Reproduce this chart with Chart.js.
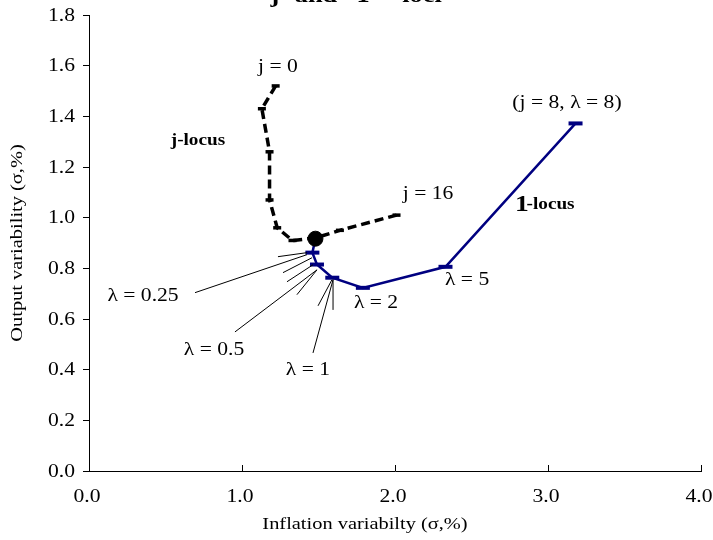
<!DOCTYPE html>
<html>
<head>
<meta charset="utf-8">
<script src="https://cdn.jsdelivr.net/npm/chart.js@4/dist/chart.umd.min.js"></script>
<style>
  html, body { margin: 0; padding: 0; background: #fff; }
  #wrap { width: 713px; height: 540px; }
</style>
</head>
<body>
<div id="wrap"><canvas id="c" width="713" height="540"></canvas></div>
<script>
// j-locus: inflation / output variability as j runs from 0 to 16
const jLocusX = [1.22, 1.13, 1.18, 1.18, 1.23, 1.33, 1.48, 1.64, 2.01];
const jLocusY = [1.52, 1.43, 1.26, 1.07, 0.96, 0.91, 0.92, 0.95, 1.01];

// lambda-locus: starts at the j = 8 optimum and runs up to lambda = 8
const lambdaX = [1.48, 1.46, 1.49, 1.59, 1.79, 2.33, 3.18];
const lambdaY = [0.917, 0.862, 0.815, 0.763, 0.723, 0.806, 1.372];

// highlighted optimum
const optimumX = [1.48];
const optimumY = [0.917];

// axis ticks
const xTickValues = [0, 1, 2, 3, 4];
const yTickValues = [0, 0.2, 0.4, 0.6, 0.8, 1.0, 1.2, 1.4, 1.6, 1.8];

// text labels placed in data coordinates
const labelText  = ['j = 0', 'j-locus', 'j = 16', '(j = 8, \u03bb = 8)', '1', '-locus', '\u03bb = 5', '\u03bb = 2', '\u03bb = 0.25', '\u03bb = 0.5', '\u03bb = 1'];
const labelX     = [1.235, 0.712, 2.216, 3.124, 2.784, 2.86, 2.471, 1.876, 0.353, 0.817, 1.431];
const labelY     = [1.593, 1.304, 1.091, 1.451, 1.051, 1.051, 0.751, 0.664, 0.688, 0.478, 0.399];
const labelBold  = [false, true, false, false, true, true, false, false, false, false, false];
const labelSize  = [18, 16, 18, 18, 23, 16, 18, 18, 18, 18, 18];
const labelAlign = ['center', 'center', 'center', 'center', 'left', 'left', 'center', 'center', 'center', 'center', 'center'];

// thin leader lines from the lambda labels to their points
const leaderX1 = [0.693, 1.235, 1.268, 1.294, 1.359, 0.954, 1.497, 1.595, 1.464];
const leaderY1 = [0.704, 0.846, 0.783, 0.747, 0.696, 0.549, 0.652, 0.636, 0.466];
const leaderX2 = [1.425, 1.425, 1.458, 1.464, 1.490, 1.490, 1.588, 1.595, 1.595];
const leaderY2 = [0.854, 0.862, 0.842, 0.814, 0.794, 0.794, 0.755, 0.755, 0.755];

const SERIF = '"Liberation Serif", "Times New Roman", serif';
const WIDEN = 1.2;   // text is set slightly wide

const toPoints = (xs, ys) => xs.map((x, i) => ({ x: x, y: ys[i] }));

function wideText(ctx, text, x, y, align) {
  ctx.save();
  ctx.translate(x, y);
  ctx.scale(WIDEN, 1);
  ctx.textAlign = align;
  ctx.fillText(text, 0, 0);
  ctx.restore();
}

const overlay = {
  id: 'overlay',
  afterDraw(chart) {
    const ctx = chart.ctx;
    const xs = chart.scales.x, ys = chart.scales.y;
    const area = chart.chartArea;
    ctx.save();

    // x-axis tick marks point up into the plot
    ctx.strokeStyle = '#000';
    ctx.lineWidth = 1;
    xTickValues.forEach(v => {
      const px = Math.round(xs.getPixelForValue(v)) + 0.5;
      ctx.beginPath();
      ctx.moveTo(px, area.bottom);
      ctx.lineTo(px, area.bottom - 6);
      ctx.stroke();
    });

    // tick labels
    ctx.fillStyle = '#000';
    ctx.font = '18px ' + SERIF;
    ctx.textBaseline = 'middle';
    xTickValues.forEach(v => {
      wideText(ctx, v.toFixed(1), xs.getPixelForValue(v) - 2, area.bottom + 26, 'center');
    });
    yTickValues.forEach(v => {
      wideText(ctx, v.toFixed(1), area.left - 14, ys.getPixelForValue(v) + 1, 'right');
    });

    // leader lines
    ctx.lineWidth = 1;
    for (let i = 0; i < leaderX1.length; i++) {
      ctx.beginPath();
      ctx.moveTo(xs.getPixelForValue(leaderX1[i]), ys.getPixelForValue(leaderY1[i]));
      ctx.lineTo(xs.getPixelForValue(leaderX2[i]), ys.getPixelForValue(leaderY2[i]));
      ctx.stroke();
    }

    // labels
    for (let i = 0; i < labelText.length; i++) {
      ctx.font = (labelBold[i] ? 'bold ' : '') + labelSize[i] + 'px ' + SERIF;
      wideText(ctx, labelText[i], xs.getPixelForValue(labelX[i]), ys.getPixelForValue(labelY[i]), labelAlign[i]);
    }

    // axis titles
    ctx.font = '17px ' + SERIF;
    wideText(ctx, 'Inflation variabilty (\u03c3,%)', 365, 525, 'center');
    ctx.save();
    ctx.translate(18, (area.top + area.bottom) / 2);
    ctx.rotate(-Math.PI / 2);
    ctx.scale(WIDEN, 1);
    ctx.textAlign = 'center';
    ctx.fillText('Output variability (\u03c3,%)', 0, 0);
    ctx.restore();

    // chart title, running off the top edge
    ctx.font = 'bold 22px ' + SERIF;
    ctx.textBaseline = 'alphabetic';
    [['j', 275], ['and', 316], ['1', 363], ['loci', 422]].forEach(w => {
      wideText(ctx, w[0], w[1], 2, 'center');
    });

    ctx.restore();
  }
};

new Chart(document.getElementById('c'), {
  type: 'scatter',
  data: {
    datasets: [
      {
        label: 'optimum',
        data: toPoints(optimumX, optimumY),
        order: 0,
        pointStyle: 'circle',
        pointRadius: 7.5,
        backgroundColor: '#000',
        borderColor: '#000',
        pointBorderWidth: 1
      },
      {
        label: 'j-locus',
        data: toPoints(jLocusX, jLocusY),
        order: 1,
        showLine: true,
        tension: 0,
        borderColor: '#000',
        borderWidth: 3.5,
        borderDash: [9, 5],
        pointStyle: 'line',
        pointRadius: 4,
        pointBorderWidth: 3.5,
        pointBorderColor: '#000',
        backgroundColor: '#000'
      },
      {
        label: 'lambda-locus',
        data: toPoints(lambdaX, lambdaY),
        order: 2,
        showLine: true,
        tension: 0,
        borderColor: '#000080',
        borderWidth: 2.5,
        pointStyle: 'line',
        pointRadius: [0, 7, 7, 7, 7, 7, 7],
        pointBorderWidth: 4,
        pointBorderColor: '#000080',
        backgroundColor: '#000080'
      }
    ]
  },
  options: {
    responsive: false,
    animation: false,
    devicePixelRatio: 1,
    layout: { padding: { top: 15, right: 12, left: 0, bottom: 0 } },
    plugins: { legend: { display: false }, tooltip: { enabled: false } },
    scales: {
      x: {
        type: 'linear',
        min: 0, max: 4,
        afterFit(s) { s.height = 69; s.paddingLeft = 0; s.paddingRight = 0; },
        afterBuildTicks(s) { s.ticks = xTickValues.map(v => ({ value: v })); },
        ticks: { display: false },
        grid: { display: false, drawTicks: false },
        border: { display: true, color: '#000', width: 1 }
      },
      y: {
        type: 'linear',
        min: 0, max: 1.8,
        afterFit(s) { s.width = 89; s.paddingTop = 0; s.paddingBottom = 0; },
        afterBuildTicks(s) { s.ticks = yTickValues.map(v => ({ value: v })); },
        ticks: { display: false },
        grid: { display: true, drawOnChartArea: false, drawTicks: true, tickLength: 6, color: '#000' },
        border: { display: true, color: '#000', width: 1 }
      }
    }
  },
  plugins: [overlay]
});
</script>
</body>
</html>
